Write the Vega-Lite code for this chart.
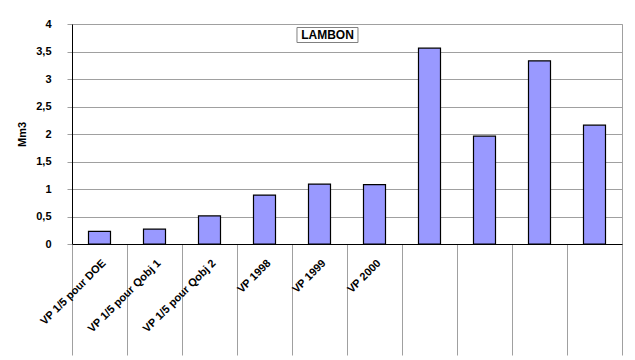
{
  "$schema": "https://vega.github.io/schema/vega-lite/v6.json",
  "width": 550,
  "height": 220,
  "autosize": {"type": "none"},
  "padding": {"left": 72, "top": 24, "right": 13, "bottom": 116},
  "background": "#ffffff",
  "config": {
    "font": "Liberation Sans",
    "view": {"stroke": "#a0a0a0", "strokeWidth": 1}
  },
  "data": {
    "values": [
      {"poste": "VP 1/5 pour DOE", "volume": 0.23},
      {"poste": "VP 1/5 pour Qobj 1", "volume": 0.27},
      {"poste": "VP 1/5 pour Qobj 2", "volume": 0.51},
      {"poste": "VP 1998", "volume": 0.89},
      {"poste": "VP 1999", "volume": 1.09},
      {"poste": "VP 2000", "volume": 1.08},
      {"poste": " ", "volume": 3.56},
      {"poste": "  ", "volume": 1.96},
      {"poste": "   ", "volume": 3.33},
      {"poste": "    ", "volume": 2.16}
    ]
  },
  "layer": [
    {
      "mark": {"type": "bar", "fill": "#9999ff", "stroke": "#000000", "strokeWidth": 1.2, "width": {"band": 0.4}},
      "encoding": {
        "x": {
          "field": "poste",
          "type": "nominal",
          "sort": null,
          "scale": {"paddingInner": 0, "paddingOuter": 0},
          "axis": {
            "title": null,
            "labelAngle": -45,
            "labelAlign": "right",
            "labelBaseline": "top",
            "labelFontWeight": "bold",
            "labelFontSize": 11,
            "labelColor": "#000000",
            "labelPadding": -98,
            "labelOverlap": false,
            "labelBound": false,
            "labelFlush": false,
            "tickBand": "extent",
            "tickSize": 111,
            "tickColor": "#a0a0a0",
            "domainColor": "#000000",
            "domainWidth": 1
          }
        },
        "y": {
          "field": "volume",
          "type": "quantitative",
          "scale": {"domain": [0, 4]},
          "axis": {
            "tickCount": 8,
            "format": "~g",
            "labelExpr": "replace(datum.label, '.', ',')",
            "grid": true,
            "gridColor": "#a0a0a0",
            "gridWidth": 1,
            "domainColor": "#000000",
            "tickColor": "#a0a0a0",
            "tickSize": 5,
            "labelFontWeight": "bold",
            "labelFontSize": 11,
            "labelColor": "#000000",
            "labelPadding": 16,
            "labelOverlap": false,
            "title": "Mm3",
            "titleFontSize": 11,
            "titleFontWeight": "bold",
            "titleColor": "#000000",
            "titlePadding": 8
          }
        }
      }
    },
    {
      "data": {"values": [{"titre": "LAMBON"}]},
      "mark": {
        "type": "point",
        "shape": "M-1,-0.246H1V0.246H-1Z",
        "size": 3721,
        "filled": true,
        "fill": "#ffffff",
        "stroke": "#808080",
        "strokeWidth": 1,
        "opacity": 1
      },
      "encoding": {
        "x": {"datum": "VP 1999", "bandPosition": 0.645},
        "y": {"datum": 3.8}
      }
    },
    {
      "data": {"values": [{"titre": "LAMBON"}]},
      "mark": {"type": "text", "fontWeight": "bold", "fontSize": 12, "color": "#000000"},
      "encoding": {
        "x": {"datum": "VP 1999", "bandPosition": 0.645},
        "y": {"datum": 3.8},
        "text": {"field": "titre"}
      }
    }
  ]
}
